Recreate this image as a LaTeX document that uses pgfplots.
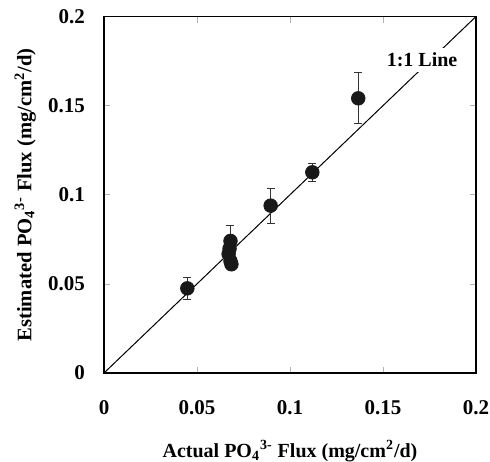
\documentclass[border=0pt]{standalone}
\usepackage{fontspec}
\setmainfont{Liberation Serif}
\usepackage{pgfplots}
\pgfplotsset{compat=1.18}
\newcommand{\po}{PO\textsubscript{4}\textsuperscript{3-}}

\begin{document}
\begin{tikzpicture}
\begin{axis}[
  name=ax,
  scale only axis,
  width=186pt, height=178.25pt,
  xmin=0, xmax=0.2, ymin=0, ymax=0.2,
  xtick={0,0.05,...,0.2}, ytick={0,0.05,...,0.2},
  xticklabels={0,0.05,0.1,0.15,0.2},
  yticklabels={0,0.05,0.1,0.15,0.2},
  tick align=inside,
  major tick length=3pt,
  tick style={gray!60, line width=0.3pt},
  axis line style={line width=0.6pt},
  ticklabel style={font=\fontsize{10.5}{12}\selectfont\bfseries},
  xticklabel style={yshift=-10pt},
  yticklabel style={xshift=-6pt},
  /pgf/number format/assume math mode=true,
  xlabel={Actual \po{} Flux (mg/cm\textsuperscript{2}/d)},
  ylabel={Estimated \po{} Flux (mg/cm\textsuperscript{2}/d)},
  xlabel style={font=\fontsize{10}{12}\selectfont\bfseries,
    at={(axis description cs:0.5,-0.219)}, anchor=center},
  ylabel style={font=\fontsize{10.3}{12}\selectfont\bfseries,
    at={(axis description cs:-0.212,0.5)}, anchor=center},
  clip=false,
]
% 1:1 line
\addplot[black, line width=0.5pt] coordinates {(0,0) (0.2,0.2)};
\node[fill=white, inner sep=2.5pt, font=\fontsize{10}{12}\selectfont\bfseries]
  at (axis cs:0.1710,0.1755) {1:1 Line};
% measurements
\addplot[only marks, mark=*, mark size=3.4pt, color=black!90,
  error bars/.cd, y dir=both, y explicit,
  error bar style={line width=0.4pt, black!80},
  error mark options={rotate=90, mark size=2pt, line width=0.4pt, black!80}]
coordinates {
  (0.0448,0.0475) +- (0,0.0060)
  (0.0680,0.0741) +- (0,0.0085)
  (0.0675,0.0698) +- (0,0.0030)
  (0.0670,0.0668) +- (0,0.0030)
  (0.0680,0.0628) +- (0,0.0030)
  (0.0685,0.0610) +- (0,0.0030)
  (0.0896,0.0939) +- (0,0.0098)
  (0.1120,0.1126) +- (0,0.0052)
  (0.1367,0.1541) +- (0,0.0143)
};
\end{axis}
\pgfresetboundingbox
\path ([shift={(-52pt,-44pt)}]ax.south west) rectangle ([shift={(7pt,8.25pt)}]ax.north east);
\end{tikzpicture}
\end{document}
